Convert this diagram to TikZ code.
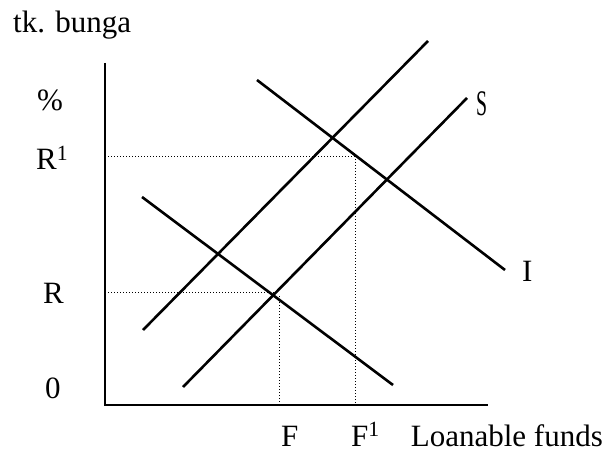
\documentclass[tikz,border=0pt]{standalone}
\usepackage{fontspec}
\setmainfont{Liberation Serif}
\begin{document}
\begin{tikzpicture}[x=1pt,y=-1pt,
  curve/.style={line width=2.6pt},
  axisline/.style={line width=2pt},
  guide/.style={dotted,line width=1pt},
  lbl/.style={inner sep=0pt,anchor=base west,font=\fontsize{31}{31}\selectfont}]
\useasboundingbox (0,0) rectangle (607,457);
% axes
\coordinate (Ytop) at (105,63);
\coordinate (O) at (105,405);
\coordinate (Xend) at (488,405);
\draw[axisline] (Ytop) -- (O) -- (Xend);
% curves
\coordinate (D1a) at (142,197); \coordinate (D1b) at (393,385);
\coordinate (D2a) at (257,80);  \coordinate (D2b) at (505,270);
\coordinate (S1a) at (143,330); \coordinate (S1b) at (428,41);
\coordinate (S2a) at (183,387); \coordinate (S2b) at (467,98);
\draw[curve] (D1a) -- (D1b);
\draw[curve] (D2a) -- (D2b);
\draw[curve] (S1a) -- (S1b);
\draw[curve] (S2a) -- (S2b);
% guides
\coordinate (Ry) at (105,292); \coordinate (Rx) at (274,292);
\coordinate (Ft) at (279,296); \coordinate (Fb) at (279,405);
\coordinate (R1y) at (105,157); \coordinate (R1x) at (355,157); \coordinate (F1b) at (355,405);
\draw[guide] (Ry) -- (Rx);
\draw[guide] (Ft) -- (Fb);
\draw[guide] (R1y) -- (R1x) -- (F1b);
% labels
\node[lbl] (ylab) at (13,33) {tk. bunga};
\node[lbl] (pct) at (37,111) {\%};
\node[lbl] (R1) at (36,170) {R\textsuperscript{1}};
\node[lbl] (R) at (43,303) {R};
\node[lbl] (zero) at (45,398) {0};
\node[lbl] (F) at (281,446) {F};
\node[lbl] (F1) at (351,446) {F\textsuperscript{1}};
\node[lbl,anchor=base east] (xlab) at (603,446) {Loanable funds};
\node[lbl,font=\fontsize{36}{36}\selectfont,xscale=0.55] (S) at (476,116) {S};
\node[lbl] (I) at (522,281) {I};
\end{tikzpicture}
\end{document}
